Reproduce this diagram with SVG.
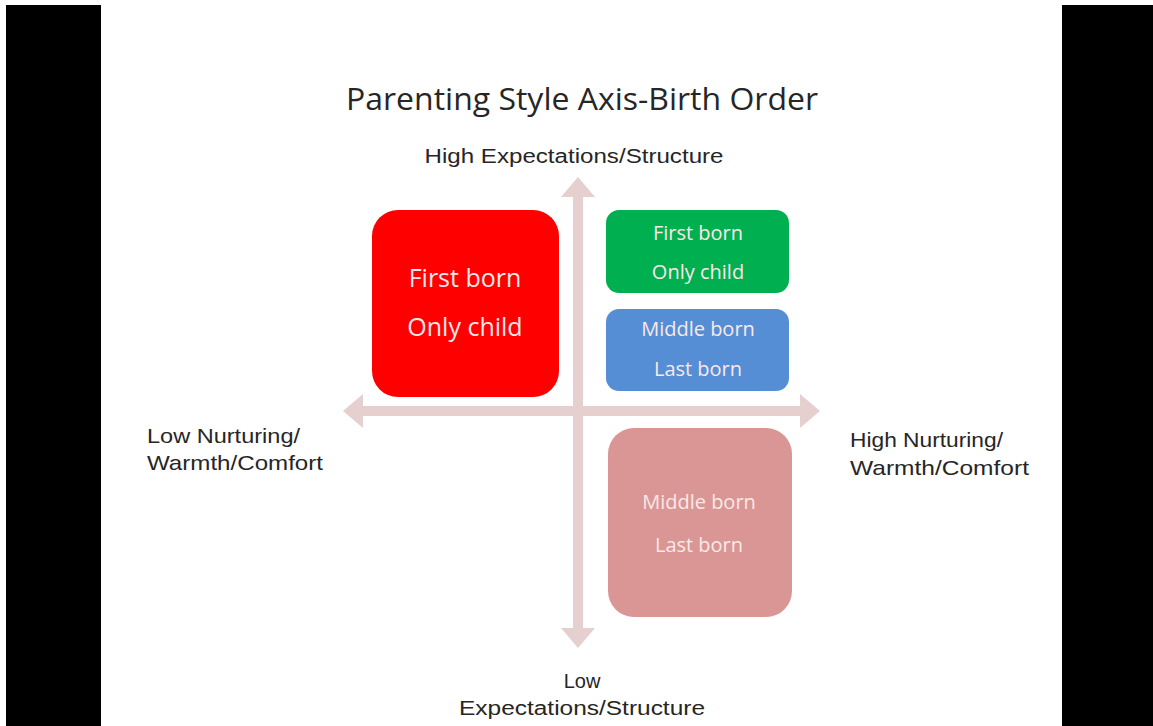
<svg xmlns="http://www.w3.org/2000/svg" width="1153" height="726" viewBox="0 0 1153 726">
<style>
.lbl{font-family:"Liberation Sans",Arial,sans-serif;font-size:20px;fill:#262626}
.side{font-size:21px}
.box{font-family:"Open Sans","Noto Sans",sans-serif;fill:#fbe8e8;text-anchor:middle}
.ax{fill:#e6cfcf}
</style>
<rect width="1153" height="726" fill="#ffffff"/>
<rect x="6" y="5" width="95" height="721" fill="#000"/>
<rect x="1062" y="5" width="91" height="721" fill="#000"/>
<text x="582" y="110" font-family="'Open Sans','Noto Sans',sans-serif" font-size="30.5" fill="#262626" text-anchor="middle" textLength="472" lengthAdjust="spacingAndGlyphs">Parenting Style Axis-Birth Order</text>
<g id="connectors">
<polygon class="ax" points="573,197 561,197 578,177 595,197 583,197 583,628 595,628 578,648 561,628 573,628"/>
<polygon class="ax" points="363,406 363,394 343,411 363,428 363,416 800,416 800,428 820,411 800,394 800,406"/>
</g>
<g id="label-top"><text class="lbl" x="574" y="163" text-anchor="middle" textLength="299" lengthAdjust="spacingAndGlyphs">High Expectations/Structure</text></g>
<g id="label-bottom"><text class="lbl" x="582" y="688" text-anchor="middle">Low</text><text class="lbl" x="582" y="715" text-anchor="middle" textLength="246" lengthAdjust="spacingAndGlyphs">Expectations/Structure</text></g>
<g id="label-left"><text class="lbl side" x="147" y="443" textLength="153" lengthAdjust="spacingAndGlyphs">Low Nurturing/</text><text class="lbl side" x="147" y="470" textLength="176" lengthAdjust="spacingAndGlyphs">Warmth/Comfort</text></g>
<g id="label-right"><text class="lbl side" x="850" y="447" textLength="153" lengthAdjust="spacingAndGlyphs">High Nurturing/</text><text class="lbl side" x="850" y="475" textLength="179" lengthAdjust="spacingAndGlyphs">Warmth/Comfort</text></g>
<g id="red-box">
<rect x="372" y="210" width="187" height="187" rx="26" fill="#ff0000"/>
<text class="box" x="465" y="287" font-size="25">First born</text>
<text class="box" x="465" y="336" font-size="25">Only child</text>
</g>
<g id="green-box">
<rect x="606" y="210" width="183" height="83" rx="13" fill="#00b050"/>
<text class="box" x="698" y="240" font-size="20">First born</text>
<text class="box" x="698" y="279" font-size="20">Only child</text>
</g>
<g id="blue-box">
<rect x="606" y="309" width="183" height="82" rx="13" fill="#558ed5"/>
<text class="box" x="698" y="336" font-size="20">Middle born</text>
<text class="box" x="698" y="376" font-size="20">Last born</text>
</g>
<g id="pink-box">
<rect x="608" y="428" width="184" height="189" rx="26" fill="#d99694"/>
<text class="box" x="699" y="509" font-size="20">Middle born</text>
<text class="box" x="699" y="552" font-size="20">Last born</text>
</g>
</svg>
